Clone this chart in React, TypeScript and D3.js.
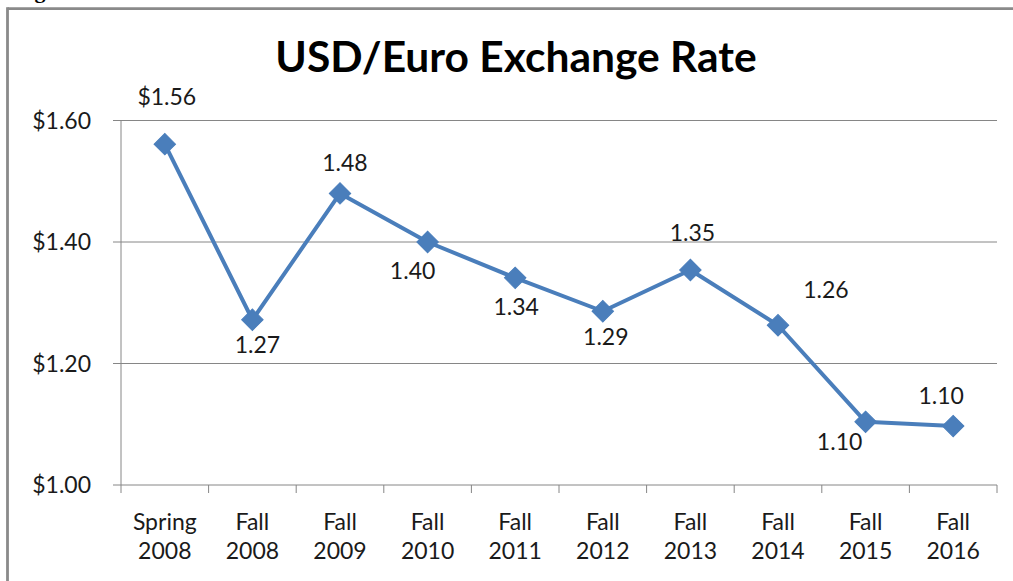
import React from "react";
import * as d3 from "d3";

// chart values
const periods = [
  ["Spring", "2008"],
  ["Fall", "2008"],
  ["Fall", "2009"],
  ["Fall", "2010"],
  ["Fall", "2011"],
  ["Fall", "2012"],
  ["Fall", "2013"],
  ["Fall", "2014"],
  ["Fall", "2015"],
  ["Fall", "2016"],
];
const rates = [1.561, 1.272, 1.48, 1.4, 1.341, 1.286, 1.354, 1.263, 1.104, 1.097];
const rateLabels = ["$1.56", "1.27", "1.48", "1.40", "1.34", "1.29", "1.35", "1.26", "1.10", "1.10"];
const yTicks = [1.0, 1.2, 1.4, 1.6];

// where each data label sits relative to its point (style)
const labelShift = [
  [2, -47], [5, 25], [5, -30], [-15, 29], [1, 29],
  [3, 26], [2, -37], [48, -35], [-26, 20], [-12, -30],
];

const width = 1013;
const height = 581;
const margin = { top: 120.5, right: 16, bottom: 96, left: 121 };
const blue = "#4a7ebb";
const gridColor = "#868686";
const font = "Lato, 'Open Sans', sans-serif";
const labelSize = 23;

const App = () => {
  const x = d3
    .scaleBand()
    .domain(periods.map((d, i) => String(i)))
    .range([margin.left, width - margin.right]);
  const y = d3
    .scaleLinear()
    .domain([1.0, 1.6])
    .range([height - margin.bottom, margin.top]);

  const cx = (i) => (x(String(i)) || 0) + x.bandwidth() / 2;

  const line = d3
    .line()
    .x((d, i) => cx(i))
    .y((d) => y(d));

  const diamond = d3.symbol().type(d3.symbolSquare).size(230)();
  const y0 = y(1.0);

  return (
    <svg
      width={width}
      height={height}
      style={{ position: "absolute", left: 0, top: 0, background: "#fff" }}
    >
      {/* page caption cut off by the crop */}
      <text x={15} y={-2} fontFamily="'Liberation Serif', serif" fontWeight="bold" fontSize={22}>
        Figure
      </text>

      {/* frame */}
      <line x1={7.5} x2={width} y1={8.7} y2={8.7} stroke="#8a8a8a" strokeWidth={2.8} />
      <line x1={7.5} x2={7.5} y1={7.3} y2={height} stroke="#8a8a8a" strokeWidth={2.8} />

      <text
        x={516}
        y={72}
        textAnchor="middle"
        fontFamily={font}
        fontWeight="bold"
        fontSize={42.5}
        fill="#000"
      >
        USD/Euro Exchange Rate
      </text>

      {/* grid + y axis */}
      {yTicks.map((t) => (
        <g key={t}>
          <line
            x1={margin.left - 8}
            x2={width - margin.right}
            y1={y(t)}
            y2={y(t)}
            stroke={gridColor}
            strokeWidth={1}
          />
          <text
            x={margin.left - 30}
            y={y(t)}
            dy="0.35em"
            textAnchor="end"
            fontFamily={font}
            fontSize={labelSize}
            fill="#1a1a1a"
          >
            {"$" + t.toFixed(2)}
          </text>
        </g>
      ))}
      <line x1={margin.left} x2={margin.left} y1={y(1.6)} y2={y0} stroke={gridColor} />

      {/* x axis ticks */}
      {periods.map((p, i) => (
        <line
          key={"t" + i}
          x1={x(String(i))}
          x2={x(String(i))}
          y1={y0}
          y2={y0 + 8}
          stroke={gridColor}
        />
      ))}
      <line x1={width - margin.right} x2={width - margin.right} y1={y0} y2={y0 + 8} stroke={gridColor} />

      {periods.map((p, i) => (
        <text
          key={"c" + i}
          x={cx(i)}
          textAnchor="middle"
          fontFamily={font}
          fontSize={labelSize}
          fill="#1a1a1a"
        >
          <tspan x={cx(i)} y={530}>{p[0]}</tspan>
          <tspan x={cx(i)} y={559}>{p[1]}</tspan>
        </text>
      ))}

      {/* series */}
      <path d={line(rates) || ""} fill="none" stroke={blue} strokeWidth={4} strokeLinejoin="round" />
      {rates.map((r, i) => (
        <path
          key={"m" + i}
          d={diamond || ""}
          transform={`translate(${cx(i)},${y(r)}) rotate(45)`}
          fill={blue}
          stroke={blue}
          strokeWidth={1}
        />
      ))}

      {rates.map((r, i) => (
        <text
          key={"l" + i}
          x={cx(i) + labelShift[i][0]}
          y={y(r) + labelShift[i][1]}
          dy="0.35em"
          textAnchor="middle"
          fontFamily={font}
          fontSize={labelSize}
          fill="#1a1a1a"
        >
          {rateLabels[i]}
        </text>
      ))}
    </svg>
  );
};

export default App;
